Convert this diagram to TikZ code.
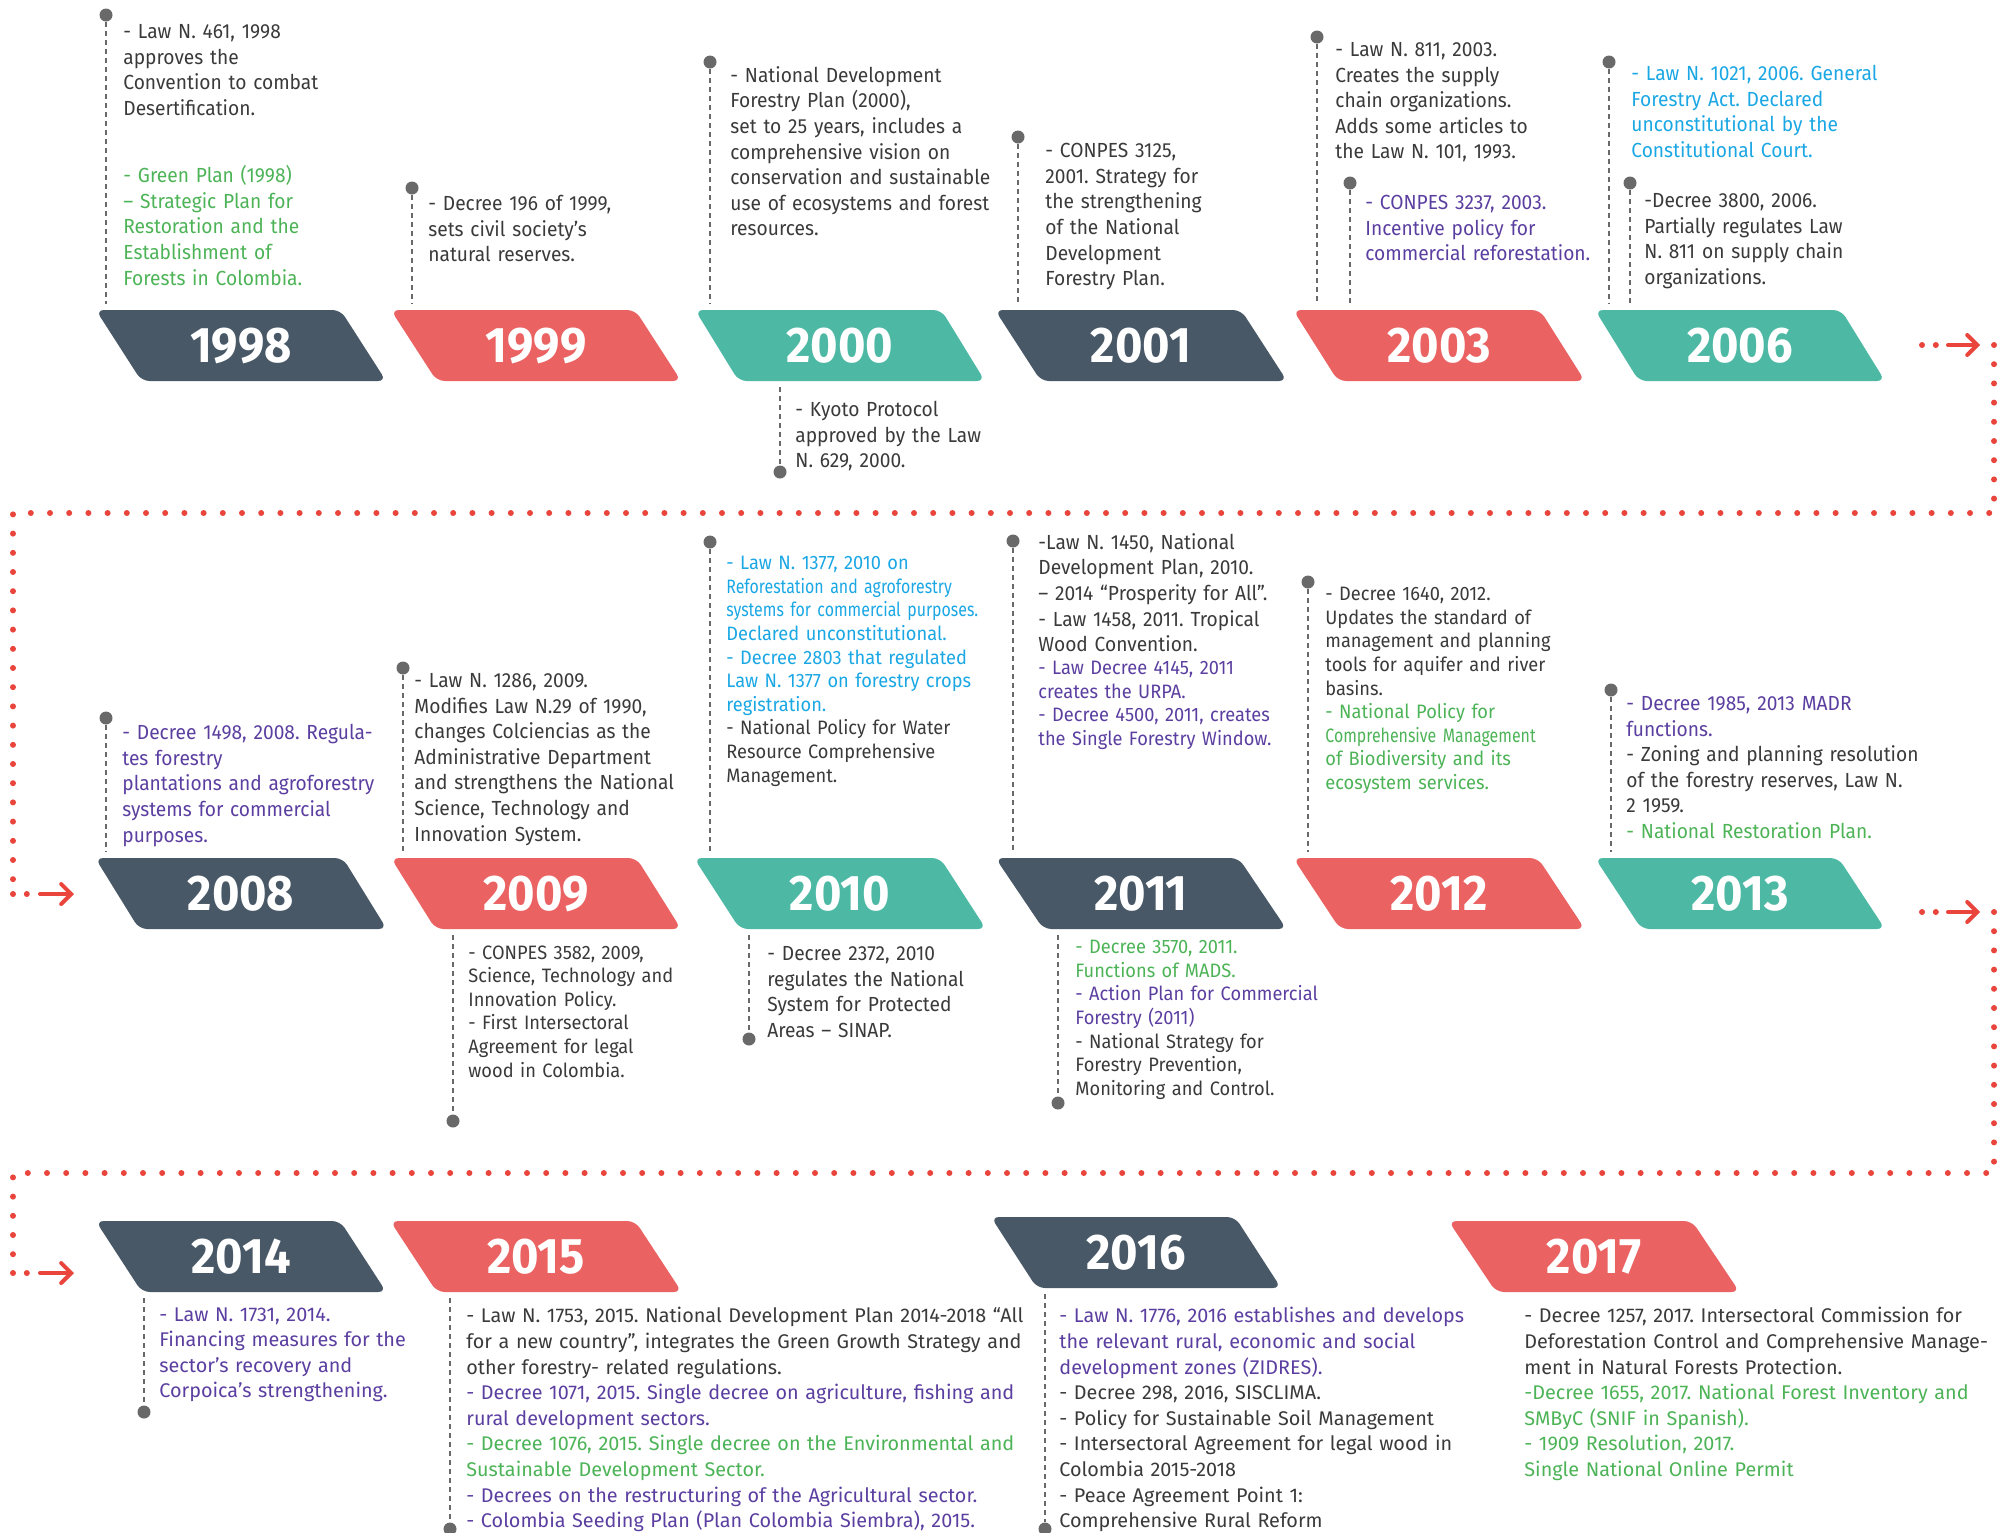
\documentclass[tikz,border=0pt]{standalone}
\usepackage{fontspec}
\setmainfont{Fira Sans}
\newfontfamily\narrowfont[FakeStretch=0.94]{Fira Sans}
\newfontfamily\tightfont[FakeStretch=0.82]{Fira Sans}
\usepackage{tikz}
\usetikzlibrary{shapes.geometric,arrows.meta,positioning}
\definecolor{slate}{RGB}{72,88,102}
\definecolor{coral}{RGB}{235,98,98}
\definecolor{sea}{RGB}{77,185,165}
\definecolor{ink}{RGB}{58,58,58}
\definecolor{leaf}{RGB}{77,179,87}
\definecolor{grape}{RGB}{91,63,160}
\definecolor{sky}{RGB}{26,167,228}
\definecolor{pingray}{RGB}{105,105,105}
\definecolor{trailred}{RGB}{233,69,60}
\newcommand{\yr}[1]{\raisebox{-1.6pt}{#1}}

\begin{document}
\frenchspacing
\begin{tikzpicture}[x=0.5pt,y=-0.5pt,
    banner/.style={trapezium, trapezium left angle=123, trapezium right angle=57,
      trapezium stretches=true, minimum width=146pt, minimum height=35.5pt,
      inner sep=0pt, rounded corners=4pt, fill=#1, text=white,
      font=\narrowfont\bfseries\fontsize{25}{25}\selectfont},
    pin/.style={circle, fill=pingray, inner sep=0pt, minimum size=6.5pt},
    lead/.style={draw=pingray, line width=0.6pt, dash pattern=on 2.5pt off 2pt},
    note/.style={anchor=north west, inner sep=0pt, text width=330pt, align=left,
      text=ink, font=\narrowfont\fontsize{10.2}{12.8}\selectfont},
    snug/.style={font=\narrowfont\fontsize{9.7}{11.8}\selectfont},
    broad/.style={font=\fontsize{9.9}{12.8}\selectfont},
    trail/.style={draw=trailred, line width=3pt, line cap=round, dash pattern=on 0pt off 9.6pt},
    stub/.style={trail, dash pattern=on 0pt off 6.9pt},
    turn/.style={draw=trailred, line width=2pt, line cap=round,
      -{Straight Barb[length=5pt,width=10pt,line cap=round]}}]
  \useasboundingbox (0,0) rectangle (2011,1532);

  % years
  \node[banner=slate] (y1998) at (241,345.5) {\yr{1998}};
  \node[banner=coral] (y1999) at (536,345.5) {\yr{1999}};
  \node[banner=sea]   (y2000) at (840,345.5) {\yr{2000}};
  \node[banner=slate] (y2001) at (1141,345.5) {\yr{2001}};
  \node[banner=coral] (y2003) at (1439,345.5) {\yr{2003}};
  \node[banner=sea]   (y2006) at (1740,345.5) {\yr{2006}};
  \node[banner=slate] (y2008) at (241,893.5) {\yr{2008}};
  \node[banner=coral] (y2009) at (536,893.5) {\yr{2009}};
  \node[banner=sea]   (y2010) at (840,893.5) {\yr{2010}};
  \node[banner=slate] (y2011) at (1141,893.5) {\yr{2011}};
  \node[banner=coral] (y2012) at (1439,893.5) {\yr{2012}};
  \node[banner=sea]   (y2013) at (1740,893.5) {\yr{2013}};
  \node[banner=slate] (y2014) at (241,1256.5) {\yr{2014}};
  \node[banner=coral] (y2015) at (536,1256.5) {\yr{2015}};
  \node[banner=slate] (y2016) at (1136,1252.5) {\yr{2016}};
  \node[banner=coral] (y2017) at (1594,1256.5) {\yr{2017}};

  % pins above
  \node[pin] (p98) at (106,15) {};
  \node[pin] (p99) at (412,188) {};
  \node[pin] (p00) at (710,62) {};
  \node[pin] (p01) at (1018,137) {};
  \node[pin] (p03) at (1317,37) {};
  \node[pin] (p03b) at (1350,183) {};
  \node[pin] (p06) at (1609,62) {};
  \node[pin] (p06b) at (1630,183) {};
  \node[pin] (p08) at (106,718) {};
  \node[pin] (p09) at (403,668) {};
  \node[pin] (p10) at (710,542) {};
  \node[pin] (p11) at (1013,541) {};
  \node[pin] (p12) at (1308,582) {};
  \node[pin] (p13) at (1611,690) {};
  \foreach \p/\y in {p98/y1998,p99/y1999,p00/y2000,p01/y2001,p03/y2003,p03b/y2003,
      p06/y2006,p06b/y2006,p08/y2008,p09/y2009,p10/y2010,p11/y2011,p12/y2012,p13/y2013}
    \draw[lead, shorten >=3pt] (\p) -- (\p |- \y.north);

  % pins below
  \node[pin] (q00) at (780,472) {};
  \node[pin] (q09) at (453,1121) {};
  \node[pin] (q10) at (749,1039) {};
  \node[pin] (q11) at (1058,1103) {};
  \node[pin] (q14) at (144,1412) {};
  \node[pin] (q15) at (450,1529) {};
  \node[pin] (q16) at (1045,1529) {};
  \foreach \p/\y in {q00/y2000,q09/y2009,q10/y2010,q11/y2011,q14/y2014,q15/y2015,q16/y2016}
    \draw[lead, shorten <=3pt] (\p |- \y.south) -- (\p);

  % row 1
  \node[note] (n98a) at (123,24) {- Law N. 461, 1998\\approves the\\Convention to combat\\Desertification.};
  \node[note, text=leaf] (n98b) at (123,165) {- Green Plan (1998)\\– Strategic Plan for\\Restoration and the\\Establishment of\\Forests in Colombia.};
  \node[note] (n99) at (428,195) {- Decree 196 of 1999,\\sets civil society’s\\natural reserves.};
  \node[note] (n00a) at (730,66) {- National Development\\Forestry Plan (2000),\\set to 25 years, includes a\\comprehensive vision on\\conservation and sustainable\\use of ecosystems and forest\\resources.};
  \node[note] (n00b) at (795,401) {- Kyoto Protocol\\approved by the Law\\N. 629, 2000.};
  \node[note] (n01) at (1045,143) {- CONPES 3125,\\2001. Strategy for\\the strengthening\\of the National\\Development\\Forestry Plan.};
  \node[note] (n03a) at (1335,42) {- Law N. 811, 2003.\\Creates the supply\\chain organizations.\\Adds some articles to\\the Law N. 101, 1993.};
  \node[note, text=grape] (n03b) at (1365,195) {- CONPES 3237, 2003.\\Incentive policy for\\commercial reforestation.};
  \node[note, text=sky] (n06a) at (1631,65) {- Law N. 1021, 2006. General\\Forestry Act. Declared\\unconstitutional by the\\Constitutional Court.};
  \node[note] (n06b) at (1644,193) {-Decree 3800, 2006.\\Partially regulates Law\\N. 811 on supply chain\\organizations.};

  % row 2
  \node[note, text=grape] (n08) at (122,724) {- Decree 1498, 2008. Regula-\\tes forestry\\plantations and agroforestry\\systems for commercial\\purposes.};
  \node[note] (n09a) at (414,673) {- Law N. 1286, 2009.\\Modifies Law N.29 of 1990,\\changes Colciencias as the\\Administrative Department\\and strengthens the National\\Science, Technology and\\Innovation System.};
  \node[note, snug] (n09b) at (468,945) {- CONPES 3582, 2009,\\Science, Technology and\\Innovation Policy.\\- First Intersectoral\\Agreement for legal\\wood in Colombia.};
  \node[note, snug, text=sky] (n10a) at (726,556) {- Law N. 1377, 2010 on\\ \tightfont Reforestation and agroforestry\\systems for commercial purposes.\\ \narrowfont Declared unconstitutional.\\- Decree 2803 that regulated\\Law N. 1377 on forestry crops\\registration.\\ \color{ink}- National Policy for Water\\Resource Comprehensive\\Management.};
  \node[note] (n10b) at (767,946) {- Decree 2372, 2010\\regulates the National\\System for Protected\\Areas – SINAP.};
  \node[note] (n11a) at (1038,533) {-Law N. 1450, National\\Development Plan, 2010.\\– 2014 “Prosperity for All”.\\- Law 1458, 2011. Tropical\\Wood Convention.};
  \node[note, snug, text=grape] (n11b) at (1038,661) {- Law Decree 4145, 2011\\creates the URPA.\\- Decree 4500, 2011, creates\\the Single Forestry Window.};
  \node[note, snug, text=leaf] (n11c) at (1075,940) {- Decree 3570, 2011.\\Functions of MADS.\\ \color{grape}- Action Plan for Commercial\\Forestry (2011)\\ \color{ink}- National Strategy for\\Forestry Prevention,\\Monitoring and Control.};
  \node[note, snug] (n12) at (1325,587) {- Decree 1640, 2012.\\ Updates the standard of\\management and planning\\tools for aquifer and river\\basins.\\ \color{leaf}- National Policy for\\ \tightfont Comprehensive Management\\ \narrowfont of Biodiversity and its\\ecosystem services.};
  \node[note, text=grape] (n13) at (1626,696) {- Decree 1985, 2013 MADR\\functions.\\ \color{ink}- Zoning and planning resolution\\of the forestry reserves, Law N.\\2 1959.\\ \color{leaf}- National Restoration Plan.};

  % row 3
  \node[note, broad, text=grape] (n14) at (159,1307) {- Law N. 1731, 2014.\\Financing measures for the\\sector’s recovery and\\Corpoica’s strengthening.};
  \node[note, broad] (n15) at (466,1307) {- Law N. 1753, 2015. National Development Plan 2014-2018 “All\\for a new country”, integrates the Green Growth Strategy and\\other forestry- related regulations.\\ \color{grape}- Decree 1071, 2015. Single decree on agriculture, fishing and\\rural development sectors.\\ \color{leaf}- Decree 1076, 2015. Single decree on the Environmental and\\Sustainable Development Sector.\\ \color{grape}- Decrees on the restructuring of the Agricultural sector.\\- Colombia Seeding Plan (Plan Colombia Siembra), 2015.};
  \node[note, broad, text=grape] (n16) at (1059,1307) {- Law N. 1776, 2016 establishes and develops\\the relevant rural, economic and social\\development zones (ZIDRES).\\ \color{ink}- Decree 298, 2016, SISCLIMA.\\- Policy for Sustainable Soil Management\\- Intersectoral Agreement for legal wood in\\Colombia 2015-2018\\- Peace Agreement Point 1:\\Comprehensive Rural Reform};
  \node[note, broad] (n17) at (1524,1307) {- Decree 1257, 2017. Intersectoral Commission for\\Deforestation Control and Comprehensive Manage-\\ment in Natural Forests Protection.\\ \color{leaf}-Decree 1655, 2017. National Forest Inventory and\\SMByC (SNIF in Spanish).\\- 1909 Resolution, 2017.\\Single National Online Permit};

  % red trail between rows
  \coordinate (a1) at (1922,345);  \coordinate (a2) at (1936,345);
  \coordinate (a3) at (1948,345);  \coordinate (a4) at (1980,345);
  \coordinate (a5) at (1994,345);  \coordinate (a6) at (1994,513);
  \coordinate (a7) at (13,513);    \coordinate (a8) at (13,894);
  \coordinate (a9) at (27,894);    \coordinate (a10) at (40,894);
  \coordinate (a11) at (74,894);
  \draw[stub] (a1) -- (a2);
  \draw[turn] (a3) -- (a4);
  \draw[trail] (a5) -- (a6) -- (a7) -- (a8);
  \draw[stub] (a8) -- (a9);
  \draw[turn] (a10) -- (a11);

  \coordinate (b1) at (1922,912);  \coordinate (b2) at (1936,912);
  \coordinate (b3) at (1948,912);  \coordinate (b4) at (1980,912);
  \coordinate (b5) at (1994,912);  \coordinate (b6) at (1994,1173);
  \coordinate (b7) at (13,1173);   \coordinate (b8) at (13,1273);
  \coordinate (b9) at (27,1273);   \coordinate (b10) at (40,1273);
  \coordinate (b11) at (74,1273);
  \draw[stub] (b1) -- (b2);
  \draw[turn] (b3) -- (b4);
  \draw[trail] (b5) -- (b6) -- (b7) -- (b8);
  \draw[stub] (b8) -- (b9);
  \draw[turn] (b10) -- (b11);
\end{tikzpicture}
\end{document}
